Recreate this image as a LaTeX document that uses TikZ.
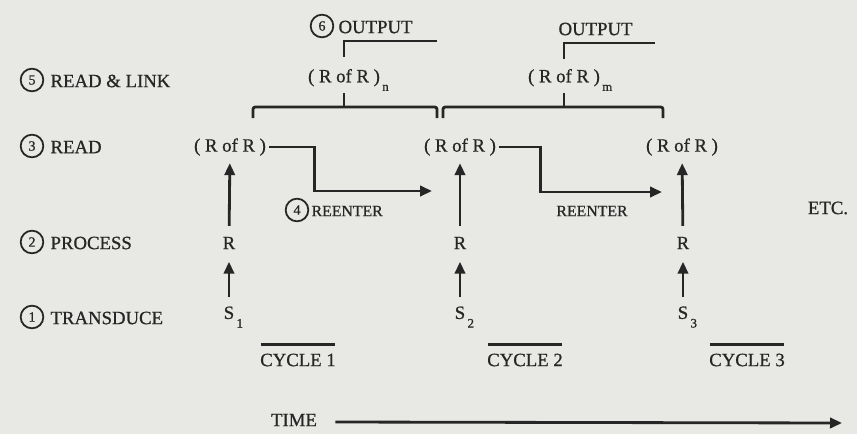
\documentclass[tikz,border=0pt]{standalone}
\usepackage{fontspec}
\setmainfont{Liberation Serif}[FakeBold=0.8]
\usetikzlibrary{arrows.meta,calc}
\definecolor{ink}{HTML}{262626}
\definecolor{paper}{HTML}{E8E8E4}
\newcommand{\lowsub}[1]{\rlap{\hspace{2pt}\raisebox{-1ex}{\fontsize{11}{12}\selectfont #1}}}

\begin{document}
\begin{tikzpicture}[
  x=0.03cm,y=-0.03cm,
  font=\fontsize{16}{18}\selectfont,
  txt/.style={text=ink,inner sep=2pt},
  small/.style={text=ink,inner sep=2pt,font=\fontsize{13.5}{15}\selectfont},
  stepnum/.style={circle,draw=ink,line width=1.5pt,inner sep=0pt,minimum size=6.8mm,text=ink,font=\fontsize{12}{13}\selectfont},
  line/.style={draw=ink,line width=2.4pt},
  brace/.style={draw=ink,line width=2.4pt,rounded corners=2pt},
  arr/.style={-{Triangle[length=3.6mm,width=3.1mm]},draw=ink,line width=2.4pt}
]
\fill[paper] (0,0) rectangle (857,434);
\useasboundingbox (0,0) rectangle (857,434);

% stages down the left
\node[stepnum] (n5) at (32,80) {5};
\node[txt,anchor=west] (readlink) at (48,81) {READ \& LINK};
\node[stepnum] (n3) at (32,146) {3};
\node[txt,anchor=west] (read) at (48,147) {READ};
\node[stepnum] (n2) at (32,242) {2};
\node[txt,anchor=west] (process) at (48,243) {PROCESS};
\node[stepnum] (n1) at (32,317) {1};
\node[txt,anchor=west] (transduce) at (48,318) {TRANSDUCE};

% the three cycles
\node[txt] (s1) at (229,317) {S\lowsub{1}};
\node[txt] (r1) at (229,243) {R};
\node[txt] (rr1) at (230,147) {( R of R )};
\node[txt] (s2) at (460,317) {S\lowsub{2}};
\node[txt] (r2) at (460,243) {R};
\node[txt] (rr2) at (460,147) {( R of R )};
\node[txt] (s3) at (683,317) {S\lowsub{3}};
\node[txt] (r3) at (683,243) {R};
\node[txt] (rr3) at (682,147) {( R of R )};

\draw[arr,shorten <=2mm,shorten >=3mm] (s1) -- (r1);
\draw[arr,shorten <=2.5mm,shorten >=1.5mm] (r1) -- (rr1);
\draw[arr,shorten <=2mm,shorten >=3mm] (s2) -- (r2);
\draw[arr,shorten <=2.5mm,shorten >=1.5mm] (r2) -- (rr2);
\draw[arr,shorten <=2mm,shorten >=3mm] (s3) -- (r3);
\draw[arr,shorten <=2.5mm,shorten >=1.5mm] (r3) -- (rr3);

% reenter
\coordinate (re1) at (432,191);
\coordinate (re2) at (662,192);
\draw[arr] (rr1.east) -- ++(46,0) |- (re1);
\draw[arr] (rr2.east) -- ++(42,0) |- (re2);
\node[stepnum] (n4) at (297,210) {4};
\node[small,anchor=west] (reenter1) at (309,211) {REENTER};
\node[small] (reenter2) at (592,211) {REENTER};
\node[txt] (etc) at (828,208) {ETC.};

% read & link
\node[txt] (rrn) at (344,80) {( R of R )\lowsub{n}};
\node[txt] (rrm) at (564,80) {( R of R )\lowsub{m}};
\draw[brace] (253,118) -- (253,107) -- (437,107) -- (437,118);
\draw[brace] (443,118) -- (443,107) -- (663,107) -- (663,118);
\draw[line] (rrn.south) -- (rrn.south |- 0,107);
\draw[line] (rrm.south) -- (rrm.south |- 0,107);

% output
\node[stepnum] (n6) at (322,26) {6};
\node[txt,anchor=west] (out1) at (336,27) {OUTPUT};
\node[txt,anchor=west] (out2) at (556,29) {OUTPUT};
\coordinate (o1) at (437,41);
\coordinate (o2) at (655,43);
\draw[line] ($(rrn.north)+(0,-10)$) |- (o1);
\draw[line] ($(rrm.north)+(0,-8)$) |- (o2);

% cycles and time
\node[txt] (c1) at (298,360) {CYCLE 1};
\node[txt] (c2) at (525,360) {CYCLE 2};
\node[txt] (c3) at (747,360) {CYCLE 3};
\foreach \c in {c1,c2,c3}
  \draw[line] ($(\c.north west)+(3,-7)$) -- ($(\c.north east)+(-3,-7)$);
\node[txt] (time) at (294,420) {TIME};
\coordinate (tend) at (842,423);
\draw[arr] ($(time.east)+(16,2)$) -- (tend);
\end{tikzpicture}
\end{document}
